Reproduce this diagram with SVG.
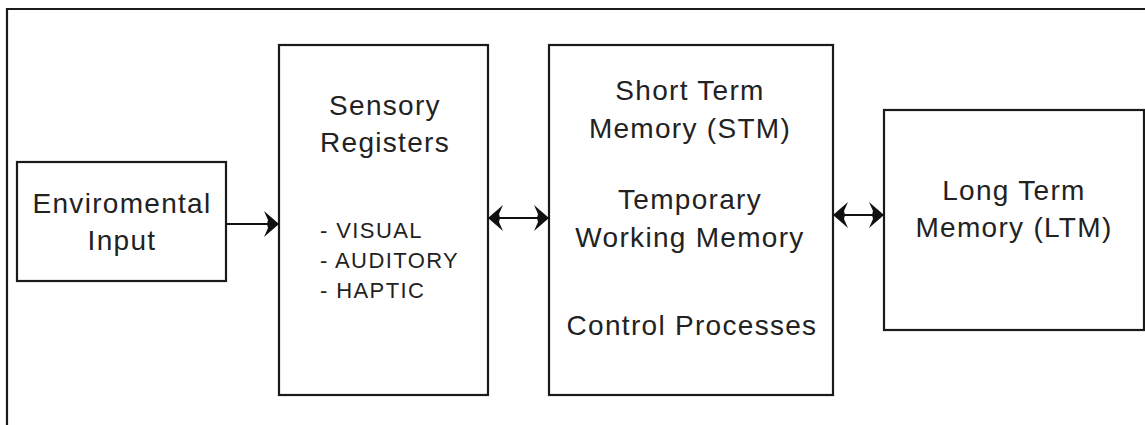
<svg xmlns="http://www.w3.org/2000/svg" width="1145" height="425" viewBox="0 0 1145 425">
<style>
.box{fill:#fff;stroke:#1a1a1a;stroke-width:2.2}
.frame{fill:none;stroke:#1a1a1a;stroke-width:2.2}
.t{font-family:"Liberation Sans",Arial,sans-serif;font-size:28px;fill:#222;text-anchor:middle;letter-spacing:1.3px}
.s{font-family:"Liberation Sans",Arial,sans-serif;font-size:22px;fill:#222;letter-spacing:1.4px}
.c{fill:none;stroke:#111;stroke-width:2.2}
</style>
<defs>
<marker id="arr" viewBox="0 0 16 26" refX="16" refY="13" markerWidth="16" markerHeight="26" markerUnits="userSpaceOnUse" orient="auto-start-reverse">
<path d="M16,13 L1,0 L5,9 L4,13 L5,17 L1,26 Z" fill="#111"/>
</marker>
</defs>
<rect width="1145" height="425" fill="#fff"/>
<path class="frame" d="M7,425 V9 H1145"/>
<g id="env">
<rect class="box" x="17" y="162" width="209" height="119"/>
<text class="t" x="122" y="213">Enviromental</text>
<text class="t" x="122" y="250">Input</text>
</g>
<g id="sensory">
<rect class="box" x="279" y="45" width="209" height="350"/>
<text class="t" x="385" y="115">Sensory</text>
<text class="t" x="385" y="152">Registers</text>
<text class="s" x="320" y="238">- VISUAL</text>
<text class="s" x="320" y="268">- AUDITORY</text>
<text class="s" x="320" y="298">- HAPTIC</text>
</g>
<g id="stm">
<rect class="box" x="549" y="45" width="284" height="350"/>
<text class="t" x="690" y="100">Short Term</text>
<text class="t" x="690" y="138">Memory (STM)</text>
<text class="t" x="690" y="209">Temporary</text>
<text class="t" x="690" y="247">Working Memory</text>
<text class="t" x="692" y="335">Control Processes</text>
</g>
<g id="ltm">
<rect class="box" x="884" y="110" width="260" height="220"/>
<text class="t" x="1014" y="200">Long Term</text>
<text class="t" x="1014" y="237">Memory (LTM)</text>
</g>
<g id="connectors">
<line class="c" x1="226" y1="224" x2="279" y2="224" marker-end="url(#arr)"/>
<line class="c" x1="488" y1="218" x2="549" y2="218" marker-start="url(#arr)" marker-end="url(#arr)"/>
<line class="c" x1="833" y1="215" x2="884" y2="215" marker-start="url(#arr)" marker-end="url(#arr)"/>
</g>
</svg>
